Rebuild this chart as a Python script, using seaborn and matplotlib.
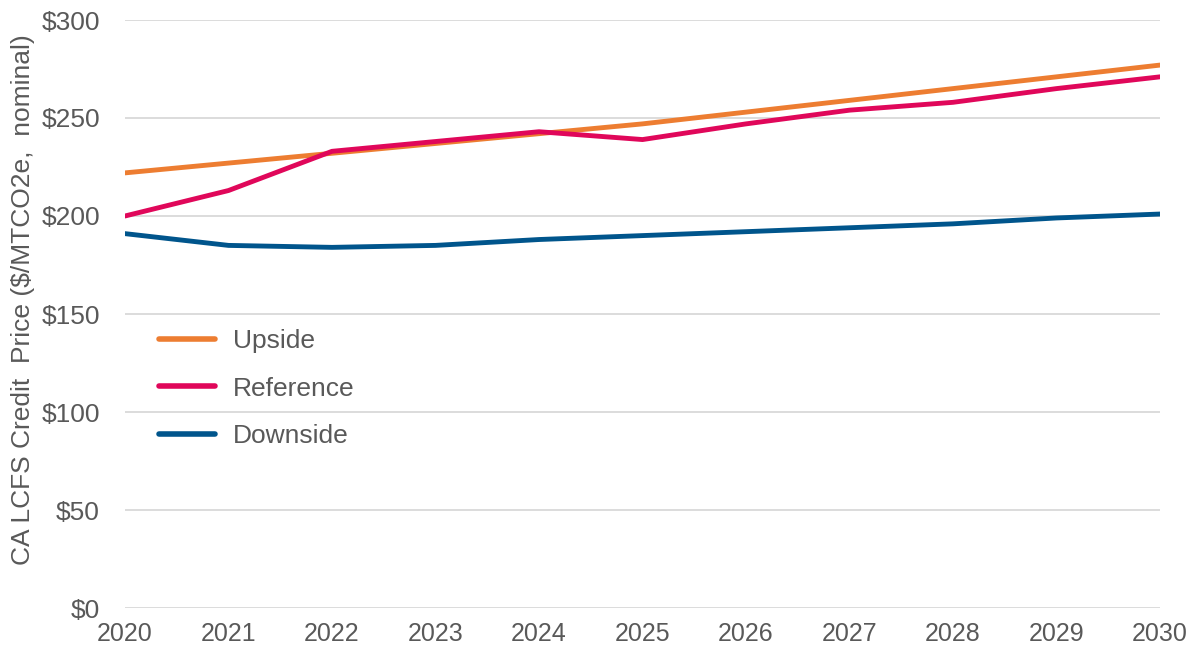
import matplotlib
matplotlib.use("Agg")
import matplotlib.pyplot as plt
import seaborn as sns
import pandas as pd

years = [2020, 2021, 2022, 2023, 2024, 2025, 2026, 2027, 2028, 2029, 2030]
upside = [222, 227, 232, 237, 242, 247, 253, 259, 265, 271, 277]
reference = [200, 213, 233, 238, 243, 239, 247, 254, 258, 265, 271]
downside = [191, 185, 184, 185, 188, 190, 192, 194, 196, 199, 201]
series_names = ["Upside", "Reference", "Downside"]
colors = ["#ED7D31", "#E0075A", "#00558C"]
y_ticks = [0, 50, 100, 150, 200, 250, 300]

df = pd.DataFrame({"Year": years * 3,
                   "Price": upside + reference + downside,
                   "Scenario": [s for s in series_names for _ in years]})

sns.set_theme(style="white")
plt.rcParams['font.family'] = ['Liberation Sans', 'DejaVu Sans']

fig = plt.figure(figsize=(11.95, 6.53), dpi=100)
ax = fig.add_axes([125/1195, 1 - 608/653, (1160-125)/1195, (608-20)/653])

sns.lineplot(data=df, x="Year", y="Price", hue="Scenario", palette=colors,
             hue_order=series_names, linewidth=3.5, ax=ax, legend=True)

ax.set_xlim(2020, 2030)
ax.set_ylim(0, 300)
ax.set_yticks(y_ticks)
ax.set_yticklabels([f"${v}" for v in y_ticks])
ax.set_xticks(years)
ax.set_xticklabels([str(y) for y in years])
ax.grid(axis="y", color="#D9D9D9", linewidth=1.3)
ax.set_axisbelow(True)
for s in ax.spines.values():
    s.set_visible(False)
ax.tick_params(axis="y", length=0, labelsize=19, colors="#595959", pad=18)
ax.tick_params(axis="x", length=0, labelsize=18, colors="#595959", pad=10)
ax.set_xlabel("")
ax.set_ylabel("CA LCFS Credit  Price ($/MTCO2e,  nominal)", fontsize=19, color="#595959")
ax.yaxis.set_label_coords(-0.087, 0.525)

leg = ax.legend(loc="upper left", bbox_to_anchor=(0.01, 0.515), frameon=False,
                fontsize=19, handlelength=2.1, handletextpad=0.7, labelspacing=0.9)
for t in leg.get_texts():
    t.set_color("#595959")
for l in leg.get_lines():
    l.set_linewidth(4)
    l.set_solid_capstyle("round")

fig.savefig("out.png", dpi=100)
